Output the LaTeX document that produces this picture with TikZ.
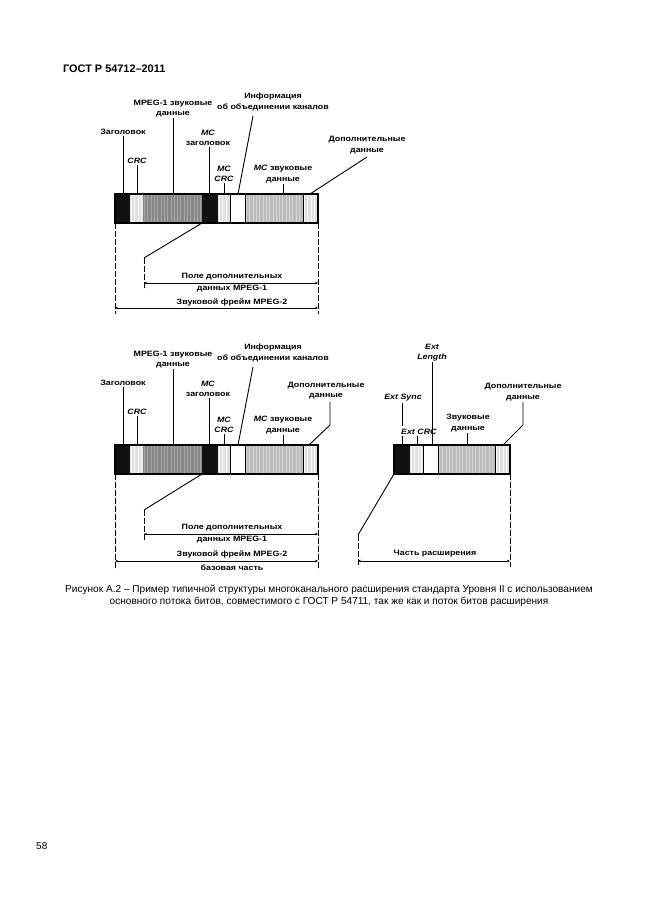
\documentclass[tikz,border=0pt]{standalone}
\usepackage{fontspec}
\setmainfont{Liberation Sans}
\newfontfamily\dfont[FakeStretch=1.15]{Liberation Sans}
\usetikzlibrary{arrows.meta,calc}
\definecolor{segdark}{HTML}{888888}
\definecolor{segdarkS}{HTML}{A6A6A6}
\definecolor{seglight}{HTML}{BBBBBB}
\definecolor{seglightS}{HTML}{D6D6D6}
\definecolor{segpale}{HTML}{E0E0E0}
\definecolor{segpaleS}{HTML}{F8F8F8}
\definecolor{segblack}{HTML}{111111}
\tikzset{
  lbl/.style={font=\dfont\bfseries\fontsize{7.7}{10.5}\selectfont, inner sep=1pt, align=center},
  ilbl/.style={font=\dfont\bfseries\itshape\fontsize{7.7}{10.5}\selectfont, inner sep=1pt, align=center},
  lead/.style={line width=0.9pt},
  guide/.style={line width=0.9pt, dash pattern=on 6pt off 2pt},
  dim/.style={line width=0.9pt, {Stealth[length=3pt,width=2.6pt]}-{Stealth[length=3pt,width=2.6pt]}},
  barout/.style={line width=1.3pt},
  sepline/.style={line width=1pt},
}
\newcommand{\barseg}[5]{%
  \fill[#4] (#1,#3) rectangle (#2,#3+29);
  \pgfmathsetmacro\bsA{#1+1.6}%
  \pgfmathsetmacro\bsB{#1+4.9}%
  \pgfmathsetmacro\bsE{#2-1}%
  \foreach \xx in {\bsA,\bsB,...,\bsE} {\draw[#5,line width=1pt] (\xx,#3) -- (\xx,#3+29);}%
}
\newcommand{\mainbar}[1]{%
  \barseg{115}{130}{#1}{segblack}{segblack}
  \barseg{130}{143}{#1}{segpale}{segpaleS}
  \barseg{143}{202}{#1}{segdark}{segdarkS}
  \barseg{202}{218}{#1}{segblack}{segblack}
  \barseg{218}{230}{#1}{segpale}{segpaleS}
  \fill[white] (230,#1) rectangle (245,#1+29);
  \barseg{245}{303}{#1}{seglight}{seglightS}
  \barseg{303}{318}{#1}{segpale}{segpaleS}
  \draw[sepline] (230,#1) -- (230,#1+29);
  \draw[sepline] (245,#1) -- (245,#1+29);
  \draw[sepline] (303,#1) -- (303,#1+29);
  \draw[barout] (115,#1) rectangle (318,#1+29);
}
\newcommand{\extbar}[1]{%
  \barseg{394}{410}{#1}{segblack}{segblack}
  \barseg{410}{423}{#1}{segpale}{segpaleS}
  \fill[white] (423,#1) rectangle (438,#1+29);
  \barseg{438}{495}{#1}{seglight}{seglightS}
  \barseg{495}{510}{#1}{segpale}{segpaleS}
  \draw[sepline] (423,#1) -- (423,#1+29);
  \draw[sepline] (438,#1) -- (438,#1+29);
  \draw[sepline] (495,#1) -- (495,#1+29);
  \draw[barout] (394,#1) rectangle (510,#1+29);
}
\begin{document}
\begin{tikzpicture}[x=1pt,y=-1pt]
\fill[white] (0,0) rectangle (646,913);
\useasboundingbox (0,0) rectangle (646,913);

% header, page number, caption
\node[anchor=west, font=\bfseries\fontsize{10.9}{12}\selectfont, inner sep=0] (hdr) at (63,69) {ГОСТ Р 54712–2011};
\node[anchor=west, font=\fontsize{10}{12}\selectfont, inner sep=0] (pg) at (36,846) {58};
\node[font=\fontsize{10.1}{12.5}\selectfont, align=center, inner sep=0] (cap) at (329,596) {Рисунок А.2 – Пример типичной структуры многоканального расширения стандарта Уровня II с использованием\\основного потока битов, совместимого с ГОСТ Р 54711, так же как и поток битов расширения};

% ================= top figure =================
\mainbar{194}
\node[lbl] (t-mpeg) at (173,108.5) {MPEG-1 звуковые\\данные};
\node[lbl] (t-hdr) at (123,132) {Заголовок};
\node[ilbl] (t-crc) at (137,161) {CRC};
\node[lbl] (t-mchdr) at (208,138) {{\itshape MC}\\заголовок};
\node[ilbl] (t-mccrc) at (224,174) {MC\\CRC};
\node[lbl] (t-info) at (273,102) {Информация\\об объединении каналов};
\node[lbl] (t-mcdata) at (283,174) {{\itshape MC} звуковые\\данные};
\node[lbl] (t-add) at (367,145) {Дополнительные\\данные};

\coordinate (t-pmpeg) at (173,194);
\coordinate (t-phdr) at (123,194);
\coordinate (t-pcrc) at (137,194);
\coordinate (t-pmchdr) at (209,194);
\coordinate (t-pmccrc) at (224,194);
\coordinate (t-infoA) at (253,116);
\coordinate (t-pinfo) at (238,194);
\coordinate (t-pmcdata) at (283,194);
\coordinate (t-addA) at (367,157);
\coordinate (t-padd) at (310,194);
\draw[lead] (t-mpeg.south) -- (t-pmpeg);
\draw[lead] (t-hdr.south) -- (t-phdr);
\draw[lead] (t-crc.south) -- (t-pcrc);
\draw[lead] (t-pmchdr |- t-mchdr.south) -- (t-pmchdr);
\draw[lead] (t-mccrc.south) -- (t-pmccrc);
\draw[lead] (t-infoA) -- (t-pinfo);
\draw[lead] (t-mcdata.south) -- (t-pmcdata);
\draw[lead] (t-addA) -- (t-padd);

\coordinate (t-bl) at (115,223);
\coordinate (t-br) at (318,223);
\coordinate (t-gL) at (115,314);
\coordinate (t-gR) at (318,314);
\coordinate (t-slA) at (202,223);
\coordinate (t-slB) at (144,258);
\coordinate (t-gM) at (144,290);
\draw[guide] (t-bl) -- (t-gL);
\draw[guide] (t-br) -- (t-gR);
\draw[lead] (t-slA) -- (t-slB);
\draw[guide] (t-slB) -- (t-gM);
\coordinate (t-d1a) at (144,283);
\coordinate (t-d1b) at (318,283);
\draw[dim] (t-d1a) -- (t-d1b);
\node[lbl] (t-pole1) at (232,277) {Поле дополнительных};
\node[lbl] (t-pole2) at (232,289) {данных MPEG-1};
\coordinate (t-d2a) at (115,308);
\coordinate (t-d2b) at (318,308);
\draw[dim] (t-d2a) -- (t-d2b);
\node[lbl] (t-frame) at (232,302) {Звуковой фрейм MPEG-2};

% ================= bottom-left figure =================
\mainbar{445}
\node[lbl] (b-mpeg) at (173,359.5) {MPEG-1 звуковые\\данные};
\node[lbl] (b-hdr) at (123,383) {Заголовок};
\node[ilbl] (b-crc) at (137,412) {CRC};
\node[lbl] (b-mchdr) at (208,389) {{\itshape MC}\\заголовок};
\node[ilbl] (b-mccrc) at (224,425) {MC\\CRC};
\node[lbl] (b-info) at (273,353) {Информация\\об объединении каналов};
\node[lbl] (b-mcdata) at (283,425) {{\itshape MC} звуковые\\данные};
\node[lbl] (b-add) at (326,390.5) {Дополнительные\\данные};

\coordinate (b-pmpeg) at (173,445);
\coordinate (b-phdr) at (123,445);
\coordinate (b-pcrc) at (137,445);
\coordinate (b-pmchdr) at (209,445);
\coordinate (b-pmccrc) at (224,445);
\coordinate (b-infoA) at (253,367);
\coordinate (b-pinfo) at (238,445);
\coordinate (b-pmcdata) at (283,445);
\coordinate (b-addA) at (330,402);
\coordinate (b-addB) at (330,425);
\coordinate (b-padd) at (309,445);
\draw[lead] (b-mpeg.south) -- (b-pmpeg);
\draw[lead] (b-hdr.south) -- (b-phdr);
\draw[lead] (b-crc.south) -- (b-pcrc);
\draw[lead] (b-pmchdr |- b-mchdr.south) -- (b-pmchdr);
\draw[lead] (b-mccrc.south) -- (b-pmccrc);
\draw[lead] (b-infoA) -- (b-pinfo);
\draw[lead] (b-mcdata.south) -- (b-pmcdata);
\draw[lead] (b-addA) -- (b-addB) -- (b-padd);

\coordinate (b-bl) at (115,474);
\coordinate (b-br) at (318,474);
\coordinate (b-gL) at (115,570);
\coordinate (b-gR) at (318,570);
\coordinate (b-slA) at (202,474);
\coordinate (b-slB) at (144,510);
\coordinate (b-gM) at (144,541);
\draw[guide] (b-bl) -- (b-gL);
\draw[guide] (b-br) -- (b-gR);
\draw[lead] (b-slA) -- (b-slB);
\draw[guide] (b-slB) -- (b-gM);
\coordinate (b-d1a) at (144,534);
\coordinate (b-d1b) at (318,534);
\draw[dim] (b-d1a) -- (b-d1b);
\node[lbl] (b-pole1) at (232,528) {Поле дополнительных};
\node[lbl] (b-pole2) at (232,540) {данных MPEG-1};
\coordinate (b-d2a) at (115,561);
\coordinate (b-d2b) at (318,561);
\draw[dim] (b-d2a) -- (b-d2b);
\node[lbl] (b-frame) at (232,554) {Звуковой фрейм MPEG-2};
\node[lbl] (b-base) at (232,568) {базовая часть};

% ================= right figure (extension) =================
\extbar{445}
\node[ilbl] (r-len) at (432,352.5) {Ext\\Length};
\node[ilbl] (r-sync) at (403,398) {Ext Sync};
\node[ilbl] (r-ext) at (408,432) {Ext};
\node[ilbl] (r-crc) at (427,432) {CRC};
\node[lbl] (r-data) at (468,423) {Звуковые\\данные};
\node[lbl] (r-add) at (523,392) {Дополнительные\\данные};

\coordinate (r-plen) at (432,445);
\coordinate (r-syncB) at (402,426);
\coordinate (r-pext) at (402,445);
\coordinate (r-pcrc) at (417,445);
\coordinate (r-pdata) at (467,445);
\coordinate (r-addB) at (523,425);
\coordinate (r-padd) at (503,445);
\draw[lead] (r-plen |- r-len.south) -- (r-plen);
\draw[lead] (r-syncB |- r-sync.south) -- (r-syncB);
\draw[lead] (r-pext |- r-ext.south) -- (r-pext);
\draw[lead] (r-pcrc |- r-crc.south) -- (r-pcrc);
\draw[lead] (r-pdata |- r-data.south) -- (r-pdata);
\draw[lead] (r-add.south) -- (r-addB) -- (r-padd);

\coordinate (r-slA) at (394,474);
\coordinate (r-slB) at (358,535);
\coordinate (r-gM) at (358,567);
\coordinate (r-br) at (510,474);
\coordinate (r-gR) at (510,567);
\draw[lead] (r-slA) -- (r-slB);
\draw[guide] (r-slB) -- (r-gM);
\draw[guide] (r-br) -- (r-gR);
\coordinate (r-da) at (358,561);
\coordinate (r-db) at (510,561);
\draw[dim] (r-da) -- (r-db);
\node[lbl] (r-part) at (435,554) {Часть расширения};
\end{tikzpicture}
\end{document}
